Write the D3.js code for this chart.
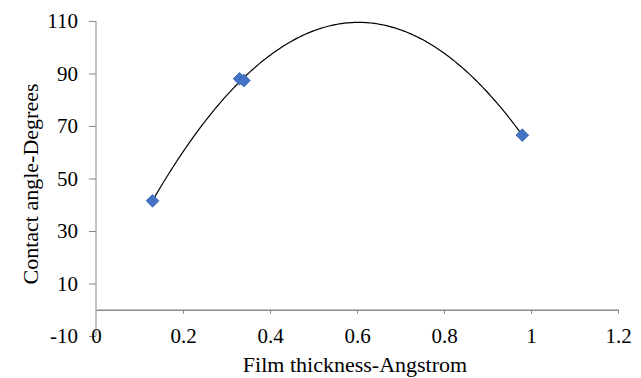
<!DOCTYPE html>
<html lang="en">
<meta charset="utf-8">
<head>
  <script src="https://d3js.org/d3.v7.min.js"></script>
</head>
<body>
  <div id="my_dataviz"></div>
  <script>
    // data
    var thickness = [0.13, 0.33, 0.34, 0.98];
    var contactAngle = [41.5, 88, 87.3, 66.5];
    var xTicks = [0, 0.2, 0.4, 0.6, 0.8, 1, 1.2];
    var yTicks = [-10, 10, 30, 50, 70, 90, 110];

    var W = 641, H = 378;
    var FONT = "'Liberation Serif', 'Times New Roman', serif";
    var margin = { top: 21, right: 23, bottom: 42, left: 96 },
      width = W - margin.left - margin.right,
      height = H - margin.top - margin.bottom;

    var svg = d3.select("#my_dataviz")
      .append("svg")
      .attr("width", W)
      .attr("height", H)
      .style("font-family", FONT);

    var g = svg.append("g")
      .attr("transform", "translate(" + margin.left + "," + margin.top + ")");

    var x = d3.scaleLinear().domain([0, 1.2]).range([0, width]);
    var y = d3.scaleLinear().domain([-10, 110]).range([height, 0]);

    // Y axis
    var yAxis = g.append("g")
      .call(d3.axisLeft(y).tickValues(yTicks).tickSize(7).tickPadding(11)
        .tickFormat(function (d) { return String(d); }));
    yAxis.selectAll("line, path").attr("stroke", "#898989");
    yAxis.select(".domain").attr("d", "M0," + y(110) + "V" + y(-10));
    yAxis.selectAll("text")
      .style("font-family", FONT)
      .style("font-size", "21px")
      .attr("fill", "#000");

    // X axis sits at y = 0
    var xAxis = g.append("g")
      .attr("transform", "translate(0," + y(0) + ")")
      .call(d3.axisBottom(x).tickValues(xTicks).tickSizeInner(4).tickSizeOuter(0)
        .tickFormat(function (d) { return String(d); }));
    xAxis.selectAll("line, path").attr("stroke", "#898989");
    xAxis.select(".domain").attr("stroke-width", 1.5);
    xAxis.selectAll(".tick").filter(function (d) { return d === 0; }).select("line").remove();
    xAxis.selectAll("text")
      .attr("dy", null)
      .attr("y", y(-10) - y(0) + 7)
      .style("font-family", FONT)
      .style("font-size", "21px")
      .attr("fill", "#000");

    // polynomial (order 2) trendline by least squares
    function fit2(xs, ys) {
      var S = [0, 0, 0, 0, 0], T = [0, 0, 0];
      xs.forEach(function (xv, i) {
        for (var k = 0; k < 5; k++) S[k] += Math.pow(xv, k);
        for (var k2 = 0; k2 < 3; k2++) T[k2] += ys[i] * Math.pow(xv, k2);
      });
      var A = [[S[0], S[1], S[2], T[0]], [S[1], S[2], S[3], T[1]], [S[2], S[3], S[4], T[2]]];
      for (var i = 0; i < 3; i++) {
        for (var r = i + 1; r < 3; r++) {
          var f = A[r][i] / A[i][i];
          for (var c = i; c < 4; c++) A[r][c] -= f * A[i][c];
        }
      }
      var co = [0, 0, 0];
      for (var i2 = 2; i2 >= 0; i2--) {
        var s = A[i2][3];
        for (var c2 = i2 + 1; c2 < 3; c2++) s -= A[i2][c2] * co[c2];
        co[i2] = s / A[i2][i2];
      }
      return function (xv) { return co[0] + co[1] * xv + co[2] * xv * xv; };
    }
    var trend = fit2(thickness, contactAngle);
    var xMin = d3.min(thickness), xMax = d3.max(thickness);
    var curve = d3.range(0, 201).map(function (i) {
      var xv = xMin + (xMax - xMin) * i / 200;
      return [xv, trend(xv)];
    });

    g.append("path")
      .datum(curve)
      .attr("fill", "none")
      .attr("stroke", "#000")
      .attr("stroke-width", 1.2)
      .attr("d", d3.line().x(function (d) { return x(d[0]); }).y(function (d) { return y(d[1]); }));

    // diamond markers
    g.selectAll(".pt")
      .data(thickness)
      .enter()
      .append("rect")
      .attr("class", "pt")
      .attr("width", 9)
      .attr("height", 9)
      .attr("x", -4.5)
      .attr("y", -4.5)
      .attr("fill", "#4472C4")
      .attr("stroke", "#3A64B0")
      .attr("stroke-width", 0.8)
      .attr("transform", function (d, i) {
        return "translate(" + x(d) + "," + y(contactAngle[i]) + ") rotate(45)";
      });

    // axis titles
    svg.append("text")
      .attr("x", 355)
      .attr("y", 372)
      .attr("text-anchor", "middle")
      .style("font-size", "22px")
      .text("Film thickness-Angstrom");

    svg.append("text")
      .attr("transform", "translate(38,184) rotate(-90)")
      .attr("text-anchor", "middle")
      .style("font-size", "22px")
      .text("Contact angle-Degrees");
  </script>
  <style>
    body { margin: 0; background: #fff; }
  </style>
</body>
</html>
